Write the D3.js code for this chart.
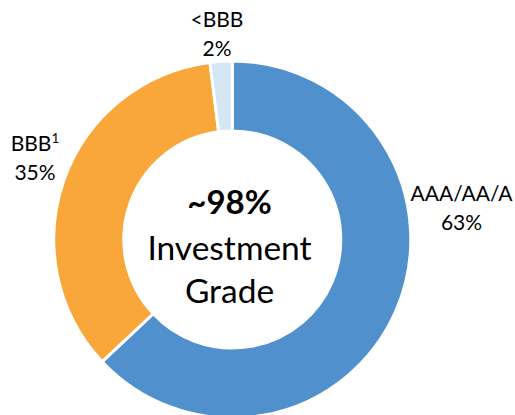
<!DOCTYPE html>
<html>
<head>
<meta charset="utf-8">
<script src="https://cdn.jsdelivr.net/npm/d3@7"></script>
<style>
  html, body { margin: 0; padding: 0; background: #ffffff; }
  svg { display: block; }
  text { font-family: Lato, "Open Sans", sans-serif; fill: #000000; }
</style>
</head>
<body>
<svg id="chart" width="515" height="415"></svg>
<script>
// Credit quality breakdown of the portfolio
const categories = ["AAA/AA/A", "BBB", "<BBB"];
const footnotes  = ["", "1", ""];
const shares     = [63, 35, 2];          // percent of portfolio
const centerLines = ["~98%", "Investment", "Grade"];

const sliceColors = ["#5091CD", "#F9A73A", "#D5E7F5"];

const svg = d3.select("#chart");
const cx = 232.3, cy = 239.5;
const outerR = 178.5, innerR = 108.5;

const color = d3.scaleOrdinal().domain(categories).range(sliceColors);

const pie = d3.pie()
  .sort(null)
  .value((d, i) => shares[i]);

const arc = d3.arc().innerRadius(innerR).outerRadius(outerR);

const g = svg.append("g").attr("transform", `translate(${cx},${cy})`);

g.selectAll("path.slice")
  .data(pie(categories))
  .join("path")
  .attr("class", "slice")
  .attr("d", arc)
  .attr("fill", d => color(d.data))
  .attr("stroke", "#ffffff")
  .attr("stroke-width", 3)
  .attr("stroke-linejoin", "miter");

// Outside labels: name on the first line, share on the second
const labelPos = [
  { x: 461.5, y: 200.5 },
  { x: 35,    y: 150.5 },
  { x: 217,   y: 26.7 }
];
const lineGap = 29;

categories.forEach((name, i) => {
  const p = labelPos[i];
  const t = svg.append("text")
    .attr("x", p.x)
    .attr("y", p.y)
    .attr("text-anchor", "middle")
    .style("font-size", "21px");
  t.append("tspan").text(name);
  if (footnotes[i]) {
    t.append("tspan")
      .attr("dy", -7.5)
      .style("font-size", "13.5px")
      .text(footnotes[i]);
  }
  svg.append("text")
    .attr("x", p.x)
    .attr("y", p.y + lineGap)
    .attr("text-anchor", "middle")
    .style("font-size", "21px")
    .text(d3.format(".0f")(shares[i]) + "%");
});

// Centre caption
const centerX = 229.5;
const centerBase = [214, 260, 303];
centerLines.forEach((line, i) => {
  svg.append("text")
    .attr("x", centerX)
    .attr("y", centerBase[i])
    .attr("text-anchor", "middle")
    .style("font-size", i === 0 ? "33px" : "33.5px")
    .style("font-weight", i === 0 ? "700" : "400")
    .text(line);
});
</script>
</body>
</html>
